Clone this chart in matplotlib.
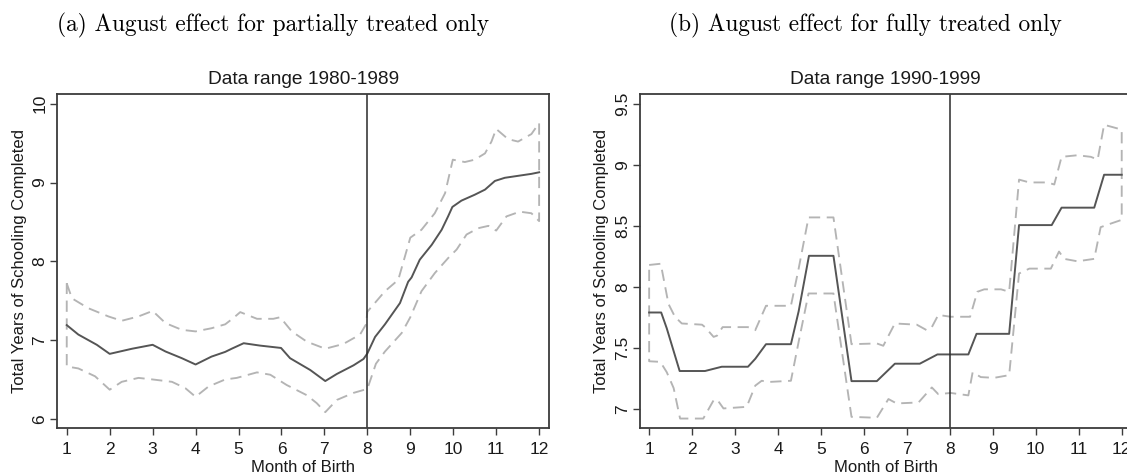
import matplotlib
matplotlib.use("Agg")
import matplotlib.pyplot as plt

# ---------------- data ----------------
months = list(range(1, 13))

# Panel (a): data range 1980-1989
main_a_x = [1.0, 1.27, 1.70, 2.0, 2.52, 3.0, 3.3, 3.68, 4.0, 4.37, 4.69, 4.84, 5.12, 5.5, 5.99,
            6.2, 6.67, 7.02, 7.29, 7.68, 7.91, 8.0, 8.18, 8.41, 8.76, 8.95, 9.03, 9.22, 9.5, 9.73,
            9.88, 9.98, 10.19, 10.5, 10.74, 10.97, 11.2, 11.51, 11.82, 12.0]
main_a_y = [7.19, 7.07, 6.94, 6.825, 6.89, 6.94, 6.855, 6.77, 6.69, 6.79, 6.85, 6.89, 6.96, 6.93, 6.90,
            6.77, 6.62, 6.48, 6.57, 6.68, 6.76, 6.83, 7.04, 7.20, 7.47, 7.74, 7.795, 8.02, 8.21, 8.40,
            8.57, 8.69, 8.77, 8.845, 8.91, 9.02, 9.06, 9.085, 9.11, 9.13]

upper_a_x = [1.0, 1.12, 1.5, 1.97, 2.28, 2.67, 3.0, 3.3, 3.68, 4.0, 4.37, 4.69, 4.88, 5.04, 5.43,
             5.81, 5.97, 6.24, 6.59, 7.02, 7.44, 7.83, 7.97, 8.0, 8.41, 8.72, 9.0, 9.26, 9.57, 9.81,
             9.99, 10.27, 10.5, 10.74, 10.89, 11.0, 11.28, 11.51, 11.82, 12.0]
upper_a_y = [7.72, 7.53, 7.405, 7.30, 7.245, 7.30, 7.37, 7.215, 7.13, 7.11, 7.15, 7.20, 7.28, 7.355, 7.27,
             7.27, 7.29, 7.11, 6.98, 6.89, 6.95, 7.07, 7.20, 7.36, 7.62, 7.765, 8.30, 8.40, 8.61, 8.865,
             9.29, 9.26, 9.29, 9.37, 9.52, 9.68, 9.55, 9.52, 9.615, 9.755]

lower_a_x = [1.0, 1.27, 1.66, 2.0, 2.28, 2.67, 3.0, 3.45, 3.76, 4.0, 4.3, 4.69, 4.96, 5.43, 5.74,
             6.12, 6.59, 6.82, 7.02, 7.29, 7.68, 8.0, 8.2, 8.41, 8.8, 9.0, 9.26, 9.57, 9.88, 10.08,
             10.31, 10.58, 10.82, 11.0, 11.24, 11.55, 11.82, 12.0]
lower_a_y = [6.665, 6.64, 6.54, 6.37, 6.47, 6.52, 6.50, 6.47, 6.39, 6.28, 6.41, 6.50, 6.52, 6.59, 6.56,
             6.43, 6.30, 6.20, 6.085, 6.24, 6.33, 6.38, 6.70, 6.855, 7.09, 7.29, 7.62, 7.85, 8.04, 8.15,
             8.34, 8.42, 8.45, 8.39, 8.57, 8.63, 8.61, 8.51]

# Panel (b): data range 1990-1999
main_b_x = [1.0, 1.28, 1.41, 1.71, 2.30, 2.69, 3.30, 3.47, 3.72, 4.30, 4.48, 4.72, 5.29, 5.71, 6.30,
            6.72, 7.30, 7.71, 8.43, 8.62, 9.38, 9.61, 10.37, 10.6, 11.36, 11.59, 12.0]
main_b_y = [7.79, 7.79, 7.66, 7.31, 7.31, 7.345, 7.345, 7.41, 7.53, 7.53, 7.80, 8.255, 8.255, 7.227, 7.227,
            7.37, 7.37, 7.446, 7.446, 7.615, 7.615, 8.507, 8.507, 8.65, 8.65, 8.92, 8.92]

upper_b_x = [1.0, 1.27, 1.45, 1.6, 1.76, 2.23, 2.3, 2.5, 2.58, 2.71, 3.30, 3.47, 3.72, 4.30, 4.48,
             4.71, 5.29, 5.71, 6.30, 6.45, 6.72, 7.23, 7.46, 7.58, 7.73, 8.02, 8.47, 8.64, 8.8, 9.19,
             9.38, 9.61, 9.85, 10.27, 10.43, 10.6, 10.97, 11.28, 11.44, 11.59, 11.9, 12.0]
upper_b_y = [8.18, 8.19, 7.86, 7.755, 7.70, 7.69, 7.67, 7.59, 7.60, 7.67, 7.67, 7.645, 7.845, 7.845, 8.15,
             8.57, 8.57, 7.53, 7.536, 7.517, 7.70, 7.69, 7.645, 7.67, 7.77, 7.755, 7.755, 7.96, 7.98, 7.98,
             7.96, 8.88, 8.857, 8.857, 8.84, 9.067, 9.08, 9.067, 9.045, 9.33, 9.30, 9.29]

lower_b_x = [1.0, 1.26, 1.41, 1.57, 1.72, 2.26, 2.5, 2.58, 2.73, 3.27, 3.47, 3.62, 3.78, 4.30, 4.48,
             4.71, 5.29, 5.71, 6.30, 6.57, 6.76, 7.27, 7.58, 7.73, 8.02, 8.43, 8.53, 8.72, 9.03, 9.38,
             9.61, 9.85, 10.35, 10.54, 10.66, 10.97, 11.36, 11.51, 11.75, 12.0]
lower_b_y = [7.39, 7.385, 7.30, 7.17, 6.92, 6.92, 7.07, 7.077, 7.003, 7.016, 7.19, 7.23, 7.22, 7.23, 7.55,
             7.946, 7.946, 6.934, 6.926, 7.08, 7.044, 7.052, 7.175, 7.12, 7.13, 7.11, 7.30, 7.26, 7.254, 7.276,
             8.11, 8.15, 8.15, 8.29, 8.23, 8.21, 8.23, 8.49, 8.52, 8.55]

yticks_a = [6, 7, 8, 9, 10]
ytick_labels_a = ["6", "7", "8", "9", "10"]
yticks_b = [7, 7.5, 8, 8.5, 9, 9.5]
ytick_labels_b = ["7", "7.5", "8", "8.5", "9", "9.5"]

cutoff_month = 8
captions = ["(a) August effect for partially treated only", "(b) August effect for fully treated only"]
titles = ["Data range 1980-1989", "Data range 1990-1999"]
xlabel = "Month of Birth"
ylabel = "Total Years of Schooling Completed"

# ---------------- figure ----------------
W, H = 1127, 476
fig = plt.figure(figsize=(W / 100, H / 100), dpi=100)
plt.rcParams['font.family'] = ['Liberation Sans', 'DejaVu Sans']

frame_col = "#3c3c3c"
main_col = "#555555"
ci_col = "#b4b4b4"


def px_axes(x0, x1, ytop, ybot):
    return [x0 / W, 1 - ybot / H, (x1 - x0) / W, (ybot - ytop) / H]


ax_a = fig.add_axes(px_axes(57.3, 549.0, 94.3, 428.3))
ax_b = fig.add_axes(px_axes(639.7, 1131.6, 94.3, 428.3))

panels = [
    (ax_a, main_a_x, main_a_y, upper_a_x, upper_a_y, lower_a_x, lower_a_y,
     (5.88, 10.12), yticks_a, ytick_labels_a),
    (ax_b, main_b_x, main_b_y, upper_b_x, upper_b_y, lower_b_x, lower_b_y,
     (6.84, 9.58), yticks_b, ytick_labels_b),
]

for i, (ax, mx, my, ux, uy, lx, ly, ylim, yt, ytl) in enumerate(panels):
    ci_x = ux + lx[::-1] + [ux[0]]
    ci_y = uy + ly[::-1] + [uy[0]]
    ax.plot(ci_x, ci_y, color=ci_col, lw=1.35, dashes=(6, 3.5), solid_capstyle='butt')
    ax.plot(mx, my, color=main_col, lw=1.4)
    ax.axvline(cutoff_month, color="#2a2a2a", lw=1.1)
    ax.set_xlim(0.78, 12.23)
    ax.set_ylim(*ylim)
    ax.set_xticks(months)
    ax.set_xticklabels([str(m) for m in months])
    ax.set_yticks(yt)
    ax.set_yticklabels(ytl)
    for sp in ax.spines.values():
        sp.set_color(frame_col)
        sp.set_linewidth(1.3)
    ax.tick_params(axis='both', direction='out', length=5, width=1.0, color=frame_col,
                   labelsize=12.5, labelcolor="#1a1a1a")
    ax.tick_params(axis='x', pad=5)
    ax.tick_params(axis='y', pad=2)
    for lab in ax.get_yticklabels():
        lab.set_rotation(90)
        lab.set_va('center')
        lab.set_ha('right')
    ax.set_xlabel(xlabel, fontsize=12, color="#1a1a1a", labelpad=2)
    ax.set_ylabel(ylabel, fontsize=12, color="#1a1a1a", labelpad=4)
    ax.text(0.5, 1.043, titles[i], transform=ax.transAxes, ha='center', va='center',
            fontsize=13.8, color="#1a1a1a")

# sub-captions (serif, LaTeX-like)
fig.text(273 / W, 1 - 25 / H, captions[0], ha='center', va='center', fontsize=16.8,
         family='cmr10', color="#000000")
fig.text(865 / W, 1 - 25 / H, captions[1], ha='center', va='center', fontsize=16.8,
         family='cmr10', color="#000000")

fig.savefig("out.png", dpi=100)
